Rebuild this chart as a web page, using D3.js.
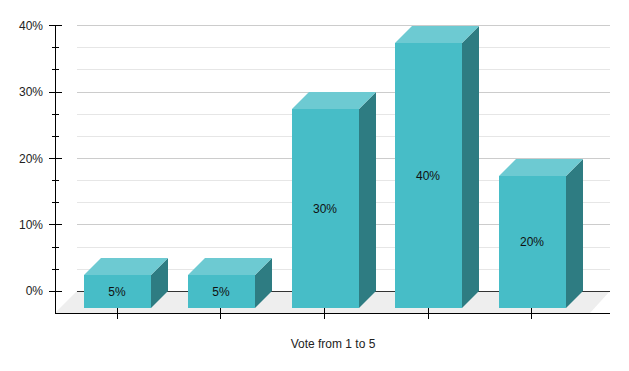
<!DOCTYPE html>
<html>
<head>
<meta charset="utf-8">
<script src="https://cdn.jsdelivr.net/npm/d3@7"></script>
<style>
  html, body { margin: 0; padding: 0; background: #fff; }
  svg { display: block; font-family: "Liberation Sans", Arial, sans-serif; }
</style>
</head>
<body>
<svg id="chart"></svg>
<script>
const categories = ["1", "2", "3", "4", "5"];
const votes = [5, 5, 30, 40, 20];
const majorTicks = [0, 10, 20, 30, 40];
const minorTicks = [10 / 3, 20 / 3, 40 / 3, 50 / 3, 70 / 3, 80 / 3, 100 / 3, 110 / 3];
const xTitle = "Vote from 1 to 5";

const width = 629;
const height = 371;
const depth = 17;
const axisX = 55;
const floorY = 313;
const gridLeft = 77;
const gridRight = 610;

const svg = d3.select("#chart")
    .attr("width", width)
    .attr("height", height);

const xScale = d3.scaleBand()
    .domain(categories)
    .range([65.8, 584.3])
    .paddingInner(0.354)
    .paddingOuter(0.177);

// grid and ticks sit on whole pixel rows, halves go to the even row
const roundEven = v => {
    const r = Math.round(v);
    return Math.abs(v - Math.trunc(v)) === 0.5 && r % 2 !== 0 ? r - 1 : r;
};

const yScale = d3.scaleLinear()
    .domain([0, 40])
    .range([291, 25])
    .interpolate((a, b) => t => roundEven(a + (b - a) * t));

// bars use a slightly shorter scale than the grid
const barScale = d3.scaleLinear()
    .domain([0, 40])
    .range([291, 26]);

// floor
svg.append("polygon")
    .attr("points", [[axisX, floorY], [gridLeft, yScale(0)], [gridRight, yScale(0)], [gridRight - 20, floorY]].join(" "))
    .attr("fill", "#eeeeee");

// grid lines
svg.append("g")
    .attr("transform", `translate(${gridLeft}, 0)`)
    .call(d3.axisLeft(yScale).tickValues(minorTicks).tickSize(gridLeft - gridRight).tickFormat(""))
    .call(g => g.select(".domain").remove())
    .call(g => g.selectAll("line").attr("stroke", "#e6e6e6"));

svg.append("g")
    .attr("transform", `translate(${gridLeft}, 0)`)
    .call(d3.axisLeft(yScale).tickValues(majorTicks).tickSize(gridLeft - gridRight).tickFormat(""))
    .call(g => g.select(".domain").remove())
    .call(g => g.selectAll("line").attr("stroke", d => d === 0 ? "#333333" : "#cccccc"));

// left axis
svg.append("g")
    .attr("transform", `translate(${axisX}, 0)`)
    .call(d3.axisLeft(yScale).tickValues(minorTicks).tickSize(0).tickFormat(""))
    .call(g => g.select(".domain").remove())
    .call(g => g.selectAll("line").attr("x1", -3).attr("x2", 4).attr("stroke", "#000"));

svg.append("g")
    .attr("transform", `translate(${axisX}, 0)`)
    .call(d3.axisLeft(yScale).tickValues(majorTicks).tickSize(0).tickPadding(12).tickFormat(d => d + "%"))
    .call(g => g.select(".domain").remove())
    .call(g => g.selectAll("line").attr("x1", -6).attr("x2", 7).attr("stroke", "#000"))
    .call(g => g.selectAll("text")
        .attr("dy", d => d === 0 || d === 30 ? "0.28em" : "0.36em")
        .attr("fill", "#222")
        .style("font-size", "12px")
        .style("font-family", "Liberation Sans"));

svg.append("line")
    .attr("x1", axisX + 0.5).attr("x2", axisX + 0.5)
    .attr("y1", yScale(40) + 0.5).attr("y2", floorY + 0.5)
    .attr("stroke", "#000");

// bottom axis
svg.append("line")
    .attr("x1", axisX).attr("x2", gridRight)
    .attr("y1", floorY + 0.5).attr("y2", floorY + 0.5)
    .attr("stroke", "#000");

const tickX = c => Math.floor(xScale(c) + xScale.bandwidth() / 2 - 0.5) + 0.5;

svg.append("g")
    .attr("transform", `translate(0, ${floorY})`)
    .call(d3.axisBottom(xScale).tickSize(0).tickFormat(""))
    .call(g => g.select(".domain").remove())
    .call(g => g.selectAll(".tick").attr("transform", d => `translate(${tickX(d)}, 0)`))
    .call(g => g.selectAll("line").attr("y1", -6).attr("y2", 6).attr("stroke", "#000"));

// bars
const bars = svg.selectAll(".bar")
    .data(categories.map((c, i) => ({ category: c, value: votes[i] })))
    .join("g")
    .attr("class", "bar");

const frontLeft = d => Math.round(xScale(d.category));
const frontRight = d => frontLeft(d) + Math.round(xScale.bandwidth());
const frontTop = d => Math.round(barScale(d.value) + depth);
const frontBottom = () => barScale(0) + depth;

// side face
bars.append("polygon")
    .attr("points", d => [
        [frontRight(d), frontTop(d)],
        [frontRight(d) + depth, frontTop(d) - depth],
        [frontRight(d) + depth, frontBottom() - depth],
        [frontRight(d), frontBottom()]
    ].join(" "))
    .attr("fill", "#2e7c82");

// top face
bars.append("polygon")
    .attr("points", d => [
        [frontLeft(d), frontTop(d)],
        [frontLeft(d) + depth, frontTop(d) - depth],
        [frontRight(d) + depth, frontTop(d) - depth],
        [frontRight(d), frontTop(d)]
    ].join(" "))
    .attr("fill", "#6dcad2");

// front face
bars.append("rect")
    .attr("x", frontLeft)
    .attr("y", frontTop)
    .attr("width", d => frontRight(d) - frontLeft(d))
    .attr("height", d => frontBottom() - frontTop(d))
    .attr("fill", "#47bdc7");

// value labels
bars.append("text")
    .attr("x", d => (frontLeft(d) + frontRight(d)) / 2 - 0.5)
    .attr("y", d => (frontTop(d) + frontBottom()) / 2 + 4)
    .attr("text-anchor", "middle")
    .attr("fill", "#111")
    .style("font-size", "12px")
    .text(d => d.value + "%");

// x title
svg.append("text")
    .attr("x", 333)
    .attr("y", 348)
    .attr("text-anchor", "middle")
    .attr("fill", "#222")
    .style("font-size", "12px")
    .text(xTitle);
</script>
</body>
</html>
